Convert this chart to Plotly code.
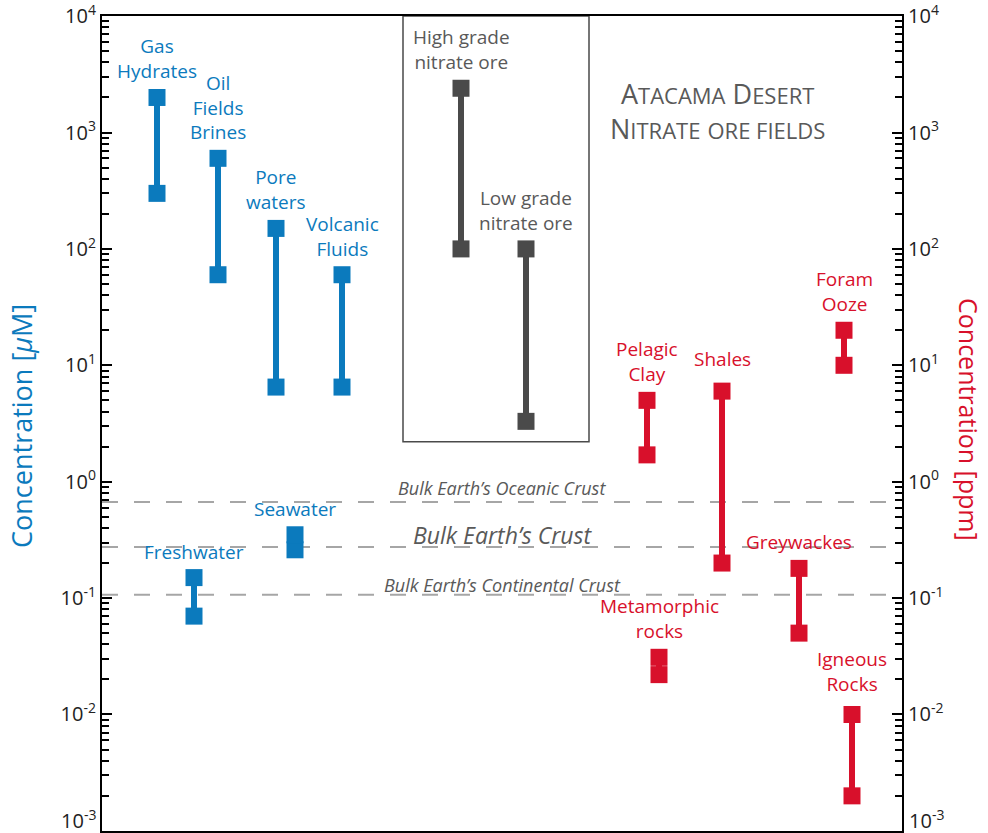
import plotly.graph_objects as go
import math

# ---------------- data ----------------
blue_names = ["Gas<br>Hydrates", "Oil<br>Fields<br>Brines", "Pore<br>waters", "Volcanic<br>Fluids",
              "Freshwater", "Seawater"]
blue_x = [55, 116, 174, 240, 92, 193]
blue_low = [300, 60, 6.5, 6.5, 0.07, 0.26]
blue_high = [2000, 600, 150, 60, 0.15, 0.35]

grey_names = ["High grade<br>nitrate ore", "Low grade<br>nitrate ore"]
grey_x = [359, 424]
grey_low = [100, 3.3]
grey_high = [2400, 100]

red_names = ["Pelagic<br>Clay", "Shales", "Metamorphic<br>rocks", "Greywackes", "Foram<br>Ooze",
             "Igneous<br>Rocks"]
red_x = [545, 620, 557, 697, 742, 750]
red_low = [1.7, 0.2, 0.022, 0.05, 10, 0.002]
red_high = [5, 6, 0.031, 0.18, 20, 0.01]

ref_names = ["Bulk Earth’s Oceanic Crust", "Bulk Earth’s Crust", "Bulk Earth’s Continental Crust"]
ref_values = [0.67, 0.275, 0.107]

tick_vals = [1e-3, 1e-2, 1e-1, 1e0, 1e1, 1e2, 1e3, 1e4]
tick_text = ["", "10<sup>-2</sup>", "10<sup>-1</sup>", "10<sup>0</sup>",
             "10<sup>1</sup>", "10<sup>2</sup>", "10<sup>3</sup>", "10<sup>4</sup>"]
bottom_tick_text = "10<sup>-3</sup>"

# ---------------- styles ----------------
BLUE = "#0b7abd"
RED = "#d8102b"
GREY = "#4a4a4a"
TEXTGREY = "#595959"
FONT = "Open Sans"
LBL = 19

fig = go.Figure()
annotations = []

# extra per-label vertical nudges (px) to mimic the reference placement
label_nudge = {"Shales": 6, "Igneous<br>Rocks": 4}


def add_group(names, xs, lows, highs, color, text_color):
    for n, x, lo, hi in zip(names, xs, lows, highs):
        fig.add_trace(go.Scatter(
            x=[x, x], y=[lo, hi], mode="lines+markers",
            line=dict(color=color, width=6),
            marker=dict(symbol="square", size=17, color=color, line=dict(width=0)),
            showlegend=False, hoverinfo="skip"))
        annotations.append(dict(
            x=x, y=math.log10(hi), xref="x", yref="y", text=n, showarrow=False,
            yanchor="bottom", yshift=11 + label_nudge.get(n, 0),
            font=dict(family=FONT, size=LBL, color=text_color)))


add_group(blue_names, blue_x, blue_low, blue_high, BLUE, BLUE)
add_group(grey_names, grey_x, grey_low, grey_high, GREY, TEXTGREY)
add_group(red_names, red_x, red_low, red_high, RED, RED)

# reference dashed lines
ref_sizes = [18, 23, 18]
ref_shift = [14, 12, 10]
for name, v, s, sh in zip(ref_names, ref_values, ref_sizes, ref_shift):
    fig.add_shape(type="line", xref="paper", yref="y", x0=0, x1=1,
                  y0=v, y1=v, line=dict(color="#a6a6a6", width=2, dash="16px,16px"), layer="below")
    annotations.append(dict(
        x=400, y=math.log10(v), xref="x", yref="y", text=f"<i>{name}</i>", showarrow=False,
        yanchor="middle", yshift=sh, font=dict(family=FONT, size=s, color=TEXTGREY)))

# nitrate box
fig.add_shape(type="rect", xref="x", yref="y", x0=grey_x[0] - 58, x1=grey_x[1] + 63,
              y0=2.2, y1=1e4, line=dict(color=GREY, width=1.5), layer="below")

# Atacama label (small caps)
def sc(word):
    return word[0] + f"<span style='font-size:22px'>{word[1:]}</span>"

annotations.append(dict(
    x=615, y=0.93, xref="x", yref="paper", showarrow=False,
    text=sc("ATACAMA") + " " + sc("DESERT") + "<br>" + sc("NITRATE") + " <span style='font-size:22px'>ORE FIELDS</span>",
    font=dict(family=FONT, size=27, color=TEXTGREY), align="center"))

# axis titles
annotations.append(dict(
    x=-0.1, y=0.497, xref="paper", yref="paper", showarrow=False, textangle=-90,
    text="Concentration [<i>µ</i>M]", font=dict(family=FONT, size=27, color=BLUE),
    xanchor="center", yanchor="middle"))
annotations.append(dict(
    x=1.083, y=0.505, xref="paper", yref="paper", showarrow=False, textangle=90,
    text="Concentration [ppm]", font=dict(family=FONT, size=25, color=RED),
    xanchor="center", yanchor="middle"))

# bottom tick labels (kept inside the page like the reference)
for xp, xa, xs in [(0, "right", -4), (1, "left", 5)]:
    annotations.append(dict(
        x=xp, y=-3, xref="paper", yref="y", showarrow=False, text=bottom_tick_text,
        xanchor=xa, yanchor="middle", xshift=xs, yshift=11,
        font=dict(family=FONT, size=20, color="#222222")))

# invisible trace for the right axis
fig.add_trace(go.Scatter(x=[None], y=[None], yaxis="y2", showlegend=False))

yax_common = dict(
    type="log", range=[-3.001, 4.001], tickvals=tick_vals, ticktext=tick_text,
    ticks="inside", ticklen=10, tickwidth=2, tickcolor="black",
    showgrid=False, zeroline=False, showline=True, linecolor="black", linewidth=2,
    tickfont=dict(family=FONT, size=20, color="#222222"), ticklabeloverflow="allow",
    automargin=False,
    minor=dict(ticks="inside", ticklen=7, tickwidth=1.5, tickcolor="black", showgrid=False, dtick="D1"),
)

fig.update_layout(
    width=988, height=833,
    margin=dict(l=102, r=86, t=16, b=2, autoexpand=False),
    paper_bgcolor="white", plot_bgcolor="white",
    xaxis=dict(range=[0, 800], showticklabels=False, ticks="", showgrid=False, zeroline=False,
               showline=True, mirror=True, linecolor="black", linewidth=2, automargin=False),
    yaxis=dict(**yax_common),
    yaxis2=dict(**yax_common, overlaying="y", side="right"),
    annotations=annotations,
    showlegend=False,
)

fig.write_html("out.html")
